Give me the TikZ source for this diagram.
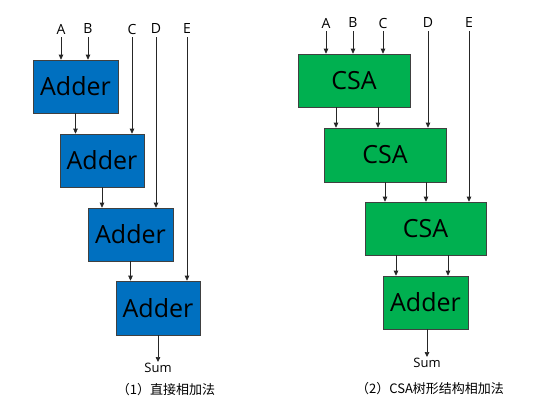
\documentclass[tikz,border=0pt]{standalone}
\usepackage{fontspec}
\setmainfont{Open Sans}
\newfontfamily\cjk{Noto Sans CJK SC}
\usetikzlibrary{arrows.meta}
\begin{document}
\begin{tikzpicture}[x=1pt,y=-1pt,
  box/.style={draw=black!75, line width=0.6pt, inner sep=0pt, font=\fontsize{25}{29}\selectfont},
  bluebox/.style={box, fill=blueA},
  greenbox/.style={box, fill=greenA},
  inlabel/.style={inner sep=1pt, font=\fontsize{14}{16}\selectfont},
  sumlabel/.style={inner sep=1pt, font=\fontsize{13}{15}\selectfont},
  caption/.style={inner sep=0pt, font=\cjk\fontsize{13}{15}\selectfont},
  arr/.style={draw=black!85, line width=0.7pt, -{Triangle[length=5pt,width=4.5pt]}},
  fromlabel/.style={arr, shorten <=2pt}
]
\definecolor{blueA}{HTML}{0070C0}
\definecolor{greenA}{HTML}{00B050}
\useasboundingbox[fill=white] (0,0) rectangle (554,410);

% ---------- left: direct addition ----------
\node[bluebox, minimum width=85pt, minimum height=53pt] (a1) at (75.5,86.5) {Adder};
\node[bluebox, minimum width=84pt, minimum height=53pt] (a2) at (102,160.5) {Adder};
\node[bluebox, minimum width=85pt, minimum height=53pt] (a3) at (130.5,234.5) {Adder};
\node[bluebox, minimum width=84pt, minimum height=54pt] (a4) at (158,308) {Adder};

\node[inlabel] (lA) at (61,29) {A};
\node[inlabel] (lB) at (88,29) {B};
\node[inlabel] (lC) at (132,29) {C};
\node[inlabel] (lD) at (156,29) {D};
\node[inlabel] (lE) at (187,29) {E};

\draw[fromlabel] (lA.south) -- (lA.south |- a1.north);
\draw[fromlabel] (lB.south) -- (lB.south |- a1.north);
\draw[fromlabel] (lC.south) -- (lC.south |- a2.north);
\draw[fromlabel] (lD.south) -- (lD.south |- a3.north);
\draw[fromlabel] (lE.south) -- (lE.south |- a4.north);

\draw[arr] (a1.south) -- (a1.south |- a2.north);
\draw[arr] (a2.south) -- (a2.south |- a3.north);
\draw[arr] (a3.south) -- (a3.south |- a4.north);

\node[sumlabel] (sumL) at (158,368) {Sum};
\draw[arr] (a4.south) -- (sumL.north);
\node[caption] (capL) at (166,390) {（1）直接相加法};

% ---------- right: CSA tree ----------
\node[greenbox, minimum width=112pt, minimum height=53pt] (c1) at (354,80.5) {CSA};
\node[greenbox, minimum width=122pt, minimum height=54pt] (c2) at (385,155) {CSA};
\node[greenbox, minimum width=121pt, minimum height=53pt] (c3) at (425.5,228.5) {CSA};
\node[greenbox, minimum width=85pt, minimum height=53pt] (c4) at (425.5,302.5) {Adder};

\node[inlabel] (rA) at (326,23) {A};
\node[inlabel] (rB) at (353,23) {B};
\node[inlabel] (rC) at (383,23) {C};
\node[inlabel] (rD) at (428,23) {D};
\node[inlabel] (rE) at (469,23) {E};

\draw[fromlabel] (rA.south) -- (rA.south |- c1.north);
\draw[fromlabel] (rB.south) -- (rB.south |- c1.north);
\draw[fromlabel] (rC.south) -- (rC.south |- c1.north);
\draw[fromlabel] (rD.south) -- (rD.south |- c2.north);
\draw[fromlabel] (rE.south) -- (rE.south |- c3.north);

\draw[arr] ([xshift=-18pt]c1.south) -- ([xshift=-18pt]c1.south |- c2.north);
\draw[arr] ([xshift=24pt]c1.south) -- ([xshift=24pt]c1.south |- c2.north);
\draw[arr] ([xshift=0pt]c2.south) -- ([xshift=0pt]c2.south |- c3.north);
\draw[arr] ([xshift=41pt]c2.south) -- ([xshift=41pt]c2.south |- c3.north);
\draw[arr] ([xshift=-29.5pt]c3.south) -- ([xshift=-29.5pt]c3.south |- c4.north);
\draw[arr] ([xshift=22.5pt]c3.south) -- ([xshift=22.5pt]c3.south |- c4.north);

\node[sumlabel] (sumR) at (427,363) {Sum};
\draw[arr] ([xshift=1.5pt]c4.south) -- ([xshift=1.5pt]c4.south |- sumR.north);
\node[caption] (capR) at (430,389) {（2）CSA树形结构相加法};
\end{tikzpicture}
\end{document}
